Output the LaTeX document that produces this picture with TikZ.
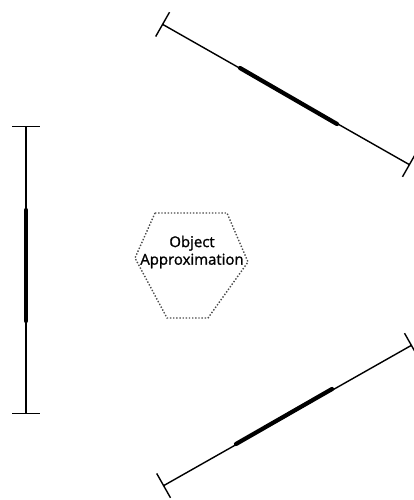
\documentclass[tikz,border=0pt]{standalone}
\usepackage{fontspec}
\newfontfamily\objfont{Open Sans}[FakeBold=1.3]
\usetikzlibrary{arrows.meta}
\begin{document}
\begin{tikzpicture}[x=0.02cm,y=-0.02cm,
    rod/.style={line width=0.8pt,{Bar[width=0.56cm,line width=0.8pt]}-{Bar[width=0.56cm,line width=0.8pt]}},
    core/.style={line width=2.4pt,line cap=round},
    hull/.style={densely dotted,line width=0.8pt,gray!60!black}]
    \useasboundingbox (0,0) rectangle (413,500);
    % sensor segments
    \coordinate (l1) at (26,126);  \coordinate (l2) at (26,414);
    \coordinate (t1) at (162,24);  \coordinate (t2) at (410,165);
    \coordinate (b1) at (163,486); \coordinate (b2) at (412,345);
    \draw[rod] (l1) -- (l2);
    \draw[rod] (t1) -- (t2);
    \draw[rod] (b1) -- (b2);
    \draw[core] (26,210) -- (26,321);
    \draw[core] (240,68) -- (337,124);
    \draw[core] (236,444) -- (332,389);
    % object
    \draw[hull] (155,213) -- (227,213) -- (248,262) -- (208,318) -- (167,318) -- (135,258) -- cycle;
    \node[font=\objfont\fontsize{8.5}{10}\selectfont,align=center] (obj) at (192,252) {Object\\Approximation};
\end{tikzpicture}
\end{document}
